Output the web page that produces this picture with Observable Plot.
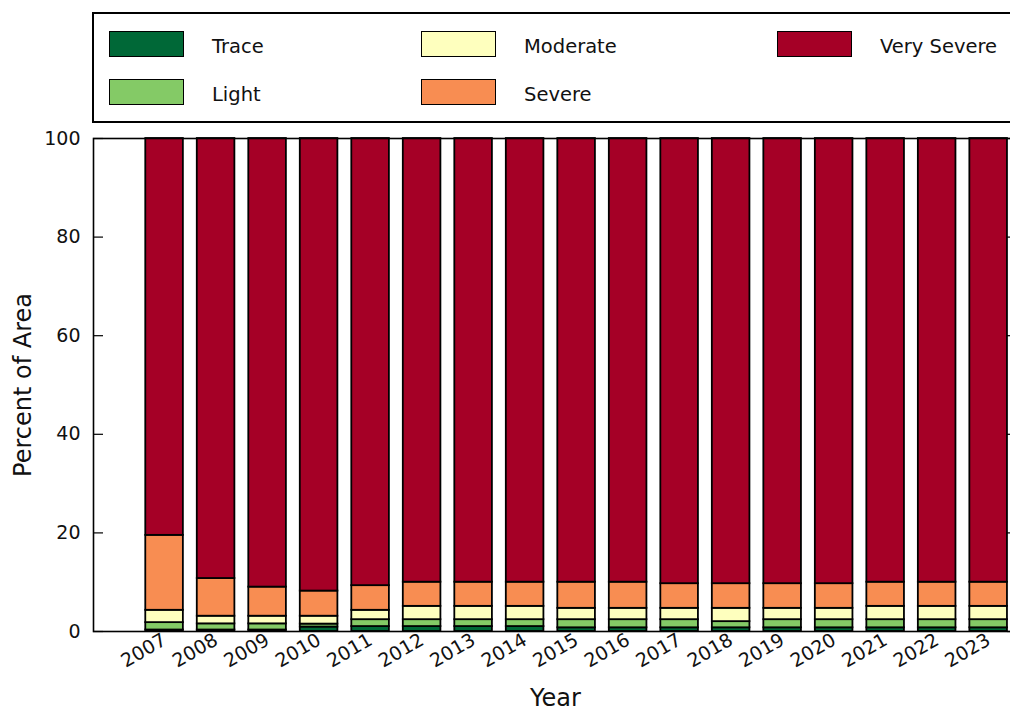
<!DOCTYPE html>
<html><head><meta charset="utf-8">
<script src="https://cdn.jsdelivr.net/npm/d3@7"></script>
<script src="https://cdn.jsdelivr.net/npm/@observablehq/plot@0.6"></script>
<style>
body{margin:0;overflow:hidden;background:#fff;font-family:"DejaVu Sans",sans-serif;}
#wrap{position:relative;width:1010px;height:711px;overflow:hidden;}
#chart svg{max-width:none !important;display:block;}
#legend{position:absolute;left:92px;top:12px;width:940px;height:107px;border:2px solid #000;background:#fff;}
.sw{position:absolute;width:73px;height:24px;border:1.8px solid #000;}
.lt{position:absolute;font-size:19.5px;color:#111;line-height:24px;white-space:nowrap;}
g[aria-label="x-axis label"] text, g[aria-label="y-axis label"] text{font-size:24px;}
</style>
</head><body>
<div id="wrap"><div id="chart"></div><div id="legend"></div></div>
<script>
const years = [2007,2008,2009,2010,2011,2012,2013,2014,2015,2016,2017,2018,2019,2020,2021,2022,2023];
const categories = ["Trace","Light","Moderate","Severe","Very Severe"];
const colors = ["#006837","#84ca66","#feffbe","#f88d52","#a50026"];
const trace      = [0.3,0.3,0.3,0.9,1.0,1.0,1.0,1.0,0.75,0.75,0.75,0.75,0.75,0.75,0.75,0.75,0.75];
const light      = [1.5,1.25,1.25,0.6,1.4,1.4,1.4,1.4,1.65,1.65,1.65,1.25,1.65,1.65,1.65,1.65,1.65];
const moderate   = [2.5,1.55,1.55,1.6,1.9,2.7,2.7,2.7,2.3,2.3,2.3,2.7,2.3,2.3,2.7,2.7,2.7];
const severe     = [15.2,7.65,5.9,5.1,5.0,4.9,4.9,4.9,5.3,5.3,5.0,5.0,5.0,5.0,4.9,4.9,4.9];
const verySevere = [80.5,89.25,91.0,91.8,90.7,90.0,90.0,90.0,90.0,90.0,90.3,90.3,90.3,90.3,90.0,90.0,90.0];
const yTicks = [0,20,40,60,80,100];

const series = [trace, light, moderate, severe, verySevere];
const rows = years.map((y, i) => {
  const r = {year: y};
  categories.forEach((c, k) => r[c] = series[k][i]);
  return r;
});
const stacked = d3.stack().keys(categories)(rows);
const rects = [];
stacked.forEach(layer => layer.forEach(p => rects.push({year: p.data.year, cat: layer.key, y1: p[0], y2: p[1]})));

const W = 1040, H = 711, mL = 93, mR = 23, mT = 138, mB = 80;
const plotW = W - mL - mR;
const barW = 0.73;

const chart = Plot.plot({
  width: W, height: H,
  marginLeft: mL, marginRight: mR, marginTop: mT, marginBottom: mB,
  style: {fontFamily: "DejaVu Sans, sans-serif", fontSize: "19px", color: "#111", background: "#fff", maxWidth: "none"},
  x: {type: "linear", domain: [2005.62, 2023.56]},
  y: {domain: [0, 100]},
  color: {domain: categories, range: colors},
  marks: [
    Plot.rect(rects, {x1: d => d.year - barW/2, x2: d => d.year + barW/2, y1: "y1", y2: "y2", fill: "cat", stroke: "#000", strokeWidth: 1.8}),
    Plot.tickY(yTicks, {y: d => d, stroke: "#000", strokeWidth: 1.2, insetRight: plotW - 10}),
    Plot.tickY(yTicks, {y: d => d, stroke: "#000", strokeWidth: 1.2, insetLeft: plotW - 10}),
    Plot.axisY({ticks: yTicks, tickSize: 0, tickPadding: 13, label: "Percent of Area", labelAnchor: "center", labelOffset: 80, labelArrow: "none"}),
    Plot.axisX({ticks: years, tickFormat: d => String(d), tickSize: 0, tickPadding: 7, tickRotate: -30, label: "Year", labelAnchor: "center", labelOffset: 74, labelArrow: "none"}),
    Plot.frame({stroke: "#000", strokeWidth: 1.6})
  ]
});
document.getElementById("chart").appendChild(chart);

const colLeft = [15, 327, 683];
const rowTop = [17, 65];
const leg = document.getElementById("legend");
categories.forEach((c, i) => {
  const col = Math.floor(i / 2), row = i % 2;
  const sw = document.createElement("div");
  sw.className = "sw";
  sw.style.left = colLeft[col] + "px";
  sw.style.top = rowTop[row] + "px";
  sw.style.background = colors[i];
  leg.appendChild(sw);
  const t = document.createElement("div");
  t.className = "lt";
  t.textContent = c;
  t.style.left = (colLeft[col] + 103) + "px";
  t.style.top = (rowTop[row] + 4) + "px";
  leg.appendChild(t);
});
</script>
</body></html>
